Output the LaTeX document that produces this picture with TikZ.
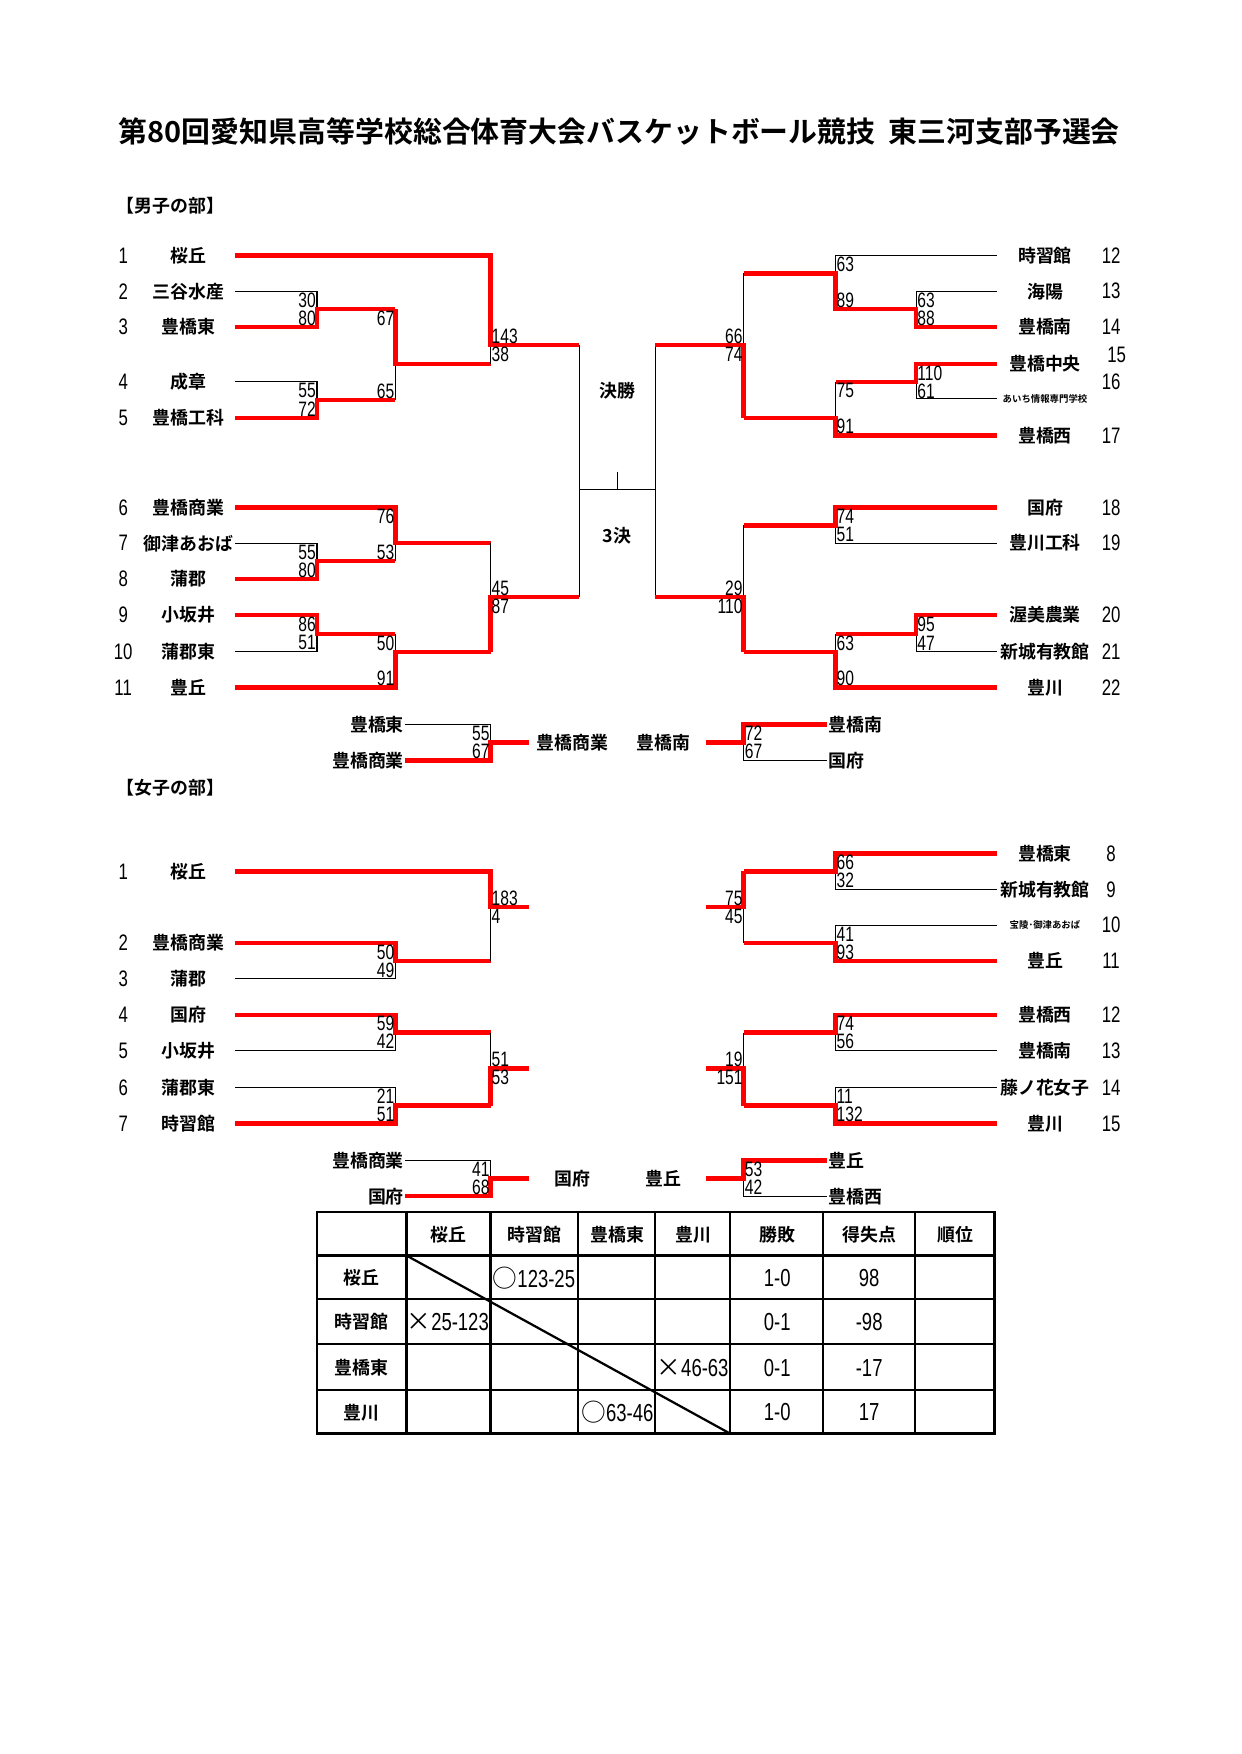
\documentclass[tikz,border=0pt]{standalone}
\usepackage{fontspec}
\setmainfont{Noto Sans CJK JP}[BoldFont={Noto Sans CJK JP Bold}]
\newfontfamily\jp{Noto Sans CJK JP Bold}
\newfontfamily\jpr{Noto Sans CJK JP}
\newfontfamily\nar[FakeStretch=0.75]{Liberation Sans}
\newcommand\mk[1]{{\jpr #1}}
\begin{document}
\begin{tikzpicture}[x=0.5pt,y=-0.5pt,
 r/.style={color=red,line width=2pt,line join=miter},
 b/.style={line width=0.5pt},
 sc/.style={font=\nar\fontsize{9.3}{9.3}\selectfont,inner sep=0.3pt},
 tc/.style={font=\nar\fontsize{11}{11}\selectfont,inner sep=0.6pt},
 nm/.style={font=\jp\fontsize{8}{8}\selectfont,inner sep=0.5pt},
 sm/.style={font=\jp\fontsize{4.2}{4.2}\selectfont,inner sep=0.5pt},
 no/.style={font=\nar\fontsize{10}{10}\selectfont,inner sep=0.5pt},
 hd/.style={font=\jp\fontsize{8}{8}\selectfont}]
\useasboundingbox (0,0) rectangle (1108,1566);
\node[font=\jp\fontsize{12.9}{12.9}\selectfont] (title) at (553,117) {第80回愛知県高等学校総合体育大会バスケットボール競技\ \ 東三河支部予選会};
\node[hd] (mh) at (152,184) {【男子の部】};
\node[hd] (wh) at (152,703) {【女子の部】};
% ---------- men left names
\foreach \n/\t/\y in {1/桜丘/228,2/三谷水産/260,3/豊橋東/292,4/成章/341,5/豊橋工科/373,6/豊橋商業/453,7/御津あおば/485,8/蒲郡/517,9/小坂井/549,10/蒲郡東/582,11/豊丘/614}{
 \node[no] (mn\n) at (110,\y) {\n}; \node[nm] (mt\n) at (168,\y) {\t};}
% ---------- men right names
\foreach \n/\t/\y in {12/時習館/228,13/海陽/260,14/豊橋南/292,17/豊橋西/389,18/国府/453,19/豊川工科/485,20/渥美農業/549,21/新城有教館/582,22/豊川/614}{
 \node[no] (mn\n) at (992,\y) {\n}; \node[nm] (mt\n) at (933,\y) {\t};}
\node[no] (mn15) at (997,317) {15}; \node[nm] (mt15) at (933,325) {豊橋中央};
\node[no] (mn16) at (992,341) {16}; \node[sm] (mt16) at (933,356) {あいち情報専門学校};
% ---------- men left bracket
\draw[b] (210,260)--(283,260)--(283,292);
\draw[r] (210,292)--(283,292)--(283,276)--(353,276);
\node[sc,anchor=east] at (283,268) {30}; \node[sc,anchor=east] at (283,284) {80};
\draw[b] (210,341)--(283,341)--(283,357);
\draw[r] (210,373)--(283,373)--(283,357)--(353,357);
\node[sc,anchor=east] at (283,349) {55}; \node[sc,anchor=east] at (283,365) {72};
\draw[b] (353,325)--(353,357);
\draw[r] (353,276)--(353,325)--(438,325);
\node[sc,anchor=east] at (353,284) {67}; \node[sc,anchor=east] at (353,349) {65};
\draw[b] (438,308)--(438,325);
\draw[r] (210,228)--(438,228)--(438,308)--(517,308);
\node[sc,anchor=west] at (438,300) {143}; \node[sc,anchor=west] at (438,316) {38};
\draw[b] (210,485)--(283,485)--(283,501);
\draw[r] (210,517)--(283,517)--(283,501)--(353,501);
\node[sc,anchor=east] at (283,493) {55}; \node[sc,anchor=east] at (283,509) {80};
\draw[b] (353,485)--(353,501);
\draw[r] (210,453)--(353,453)--(353,485)--(438,485);
\node[sc,anchor=east] at (353,461) {76}; \node[sc,anchor=east] at (353,493) {53};
\draw[b] (210,582)--(283,582)--(283,566);
\draw[r] (210,549)--(283,549)--(283,566)--(353,566);
\node[sc,anchor=east] at (283,557) {86}; \node[sc,anchor=east] at (283,574) {51};
\draw[b] (353,566)--(353,582);
\draw[r] (210,614)--(353,614)--(353,582)--(438,582);
\node[sc,anchor=east] at (353,574) {50}; \node[sc,anchor=east] at (353,606) {91};
\draw[b] (438,485)--(438,533);
\draw[r] (438,582)--(438,533)--(517,533);
\node[sc,anchor=west] at (438,525) {45}; \node[sc,anchor=west] at (438,541) {87};
% final
\draw[b] (517,308)--(517,533) (517,437)--(585,437) (551,421)--(551,437) (585,308)--(585,533);
\node[nm] (fin) at (551,349) {決勝};
\node[nm] (thr) at (551,478) {3決};
% ---------- men right bracket
\draw[b] (890,228)--(746,228)--(746,244);
\draw[b] (890,260)--(818,260)--(818,276);
\draw[r] (890,292)--(818,292)--(818,276)--(746,276)--(746,244)--(664,244);
\node[sc,anchor=west] at (818,268) {63}; \node[sc,anchor=west] at (818,284) {88};
\node[sc,anchor=west] at (746,236) {63}; \node[sc,anchor=west] at (746,268) {89};
\draw[b] (890,356)--(818,356)--(818,341);
\draw[r] (890,325)--(818,325)--(818,341)--(746,341);
\node[sc,anchor=west] at (818,333) {110}; \node[sc,anchor=west] at (818,349) {61};
\draw[b] (746,341)--(746,373);
\draw[r] (890,389)--(746,389)--(746,373)--(664,373);
\node[sc,anchor=west] at (746,349) {75}; \node[sc,anchor=west] at (746,381) {91};
\draw[b] (664,244)--(664,308);
\draw[r] (664,373)--(664,308)--(585,308);
\node[sc,anchor=east] at (664,300) {66}; \node[sc,anchor=east] at (664,316) {74};
\draw[b] (890,485)--(746,485)--(746,469);
\draw[r] (890,453)--(746,453)--(746,469)--(664,469);
\node[sc,anchor=west] at (746,461) {74}; \node[sc,anchor=west] at (746,477) {51};
\draw[b] (890,582)--(818,582)--(818,566);
\draw[r] (890,549)--(818,549)--(818,566)--(746,566);
\node[sc,anchor=west] at (818,557) {95}; \node[sc,anchor=west] at (818,574) {47};
\draw[b] (746,566)--(746,582);
\draw[r] (890,614)--(746,614)--(746,582)--(664,582);
\node[sc,anchor=west] at (746,574) {63}; \node[sc,anchor=west] at (746,606) {90};
\draw[b] (664,469)--(664,533);
\draw[r] (664,582)--(664,533)--(585,533);
\node[sc,anchor=east] at (664,525) {29}; \node[sc,anchor=east] at (664,541) {110};
% men 3rd place
\node[nm,anchor=east] (m3a) at (362,647) {豊橋東};
\node[nm,anchor=east] (m3b) at (362,679) {豊橋商業};
\draw[b] (m3a.east)--(438,647)--(438,663);
\draw[r] (m3b.east)--(438,679)--(438,663)--(472,663);
\node[sc,anchor=east] at (438,655) {55}; \node[sc,anchor=east] at (438,671) {67};
\node[nm] (m3w) at (511,663) {豊橋商業};
\node[nm] (m3r) at (592,663) {豊橋南};
\node[nm,anchor=west] (m3c) at (738,647) {豊橋南};
\node[nm,anchor=west] (m3d) at (738,679) {国府};
\draw[b] (m3d.west)--(664,679)--(664,663);
\draw[r] (m3c.west)--(664,647)--(664,663)--(630,663);
\node[sc,anchor=west] at (664,655) {72}; \node[sc,anchor=west] at (664,671) {67};
% ---------- women left
\foreach \n/\t/\y in {1/桜丘/778,2/豊橋商業/842,3/蒲郡/874,4/国府/906,5/小坂井/938,6/蒲郡東/971,7/時習館/1003}{
 \node[no] (wn\n) at (110,\y) {\n}; \node[nm] (wt\n) at (168,\y) {\t};}
\draw[b] (210,874)--(353,874)--(353,858);
\draw[r] (210,842)--(353,842)--(353,858)--(438,858);
\node[sc,anchor=east] at (353,850) {50}; \node[sc,anchor=east] at (353,866) {49};
\draw[b] (438,810)--(438,858);
\draw[r] (210,778)--(438,778)--(438,810)--(472,810);
\node[sc,anchor=west] at (438,802) {183}; \node[sc,anchor=west] at (438,818) {4};
\draw[b] (210,938)--(353,938)--(353,922);
\draw[r] (210,906)--(353,906)--(353,922)--(438,922);
\node[sc,anchor=east] at (353,914) {59}; \node[sc,anchor=east] at (353,930) {42};
\draw[b] (210,971)--(353,971)--(353,987);
\draw[r] (210,1003)--(353,1003)--(353,987)--(438,987);
\node[sc,anchor=east] at (353,979) {21}; \node[sc,anchor=east] at (353,995) {51};
\draw[b] (438,922)--(438,954);
\draw[r] (438,987)--(438,954)--(472,954);
\node[sc,anchor=west] at (438,946) {51}; \node[sc,anchor=west] at (438,962) {53};
% ---------- women right
\foreach \n/\t/\y in {8/豊橋東/762,9/新城有教館/794,11/豊丘/858,12/豊橋西/906,13/豊橋南/938,14/藤ノ花女子/971,15/豊川/1003}{
 \node[no] (wn\n) at (992,\y) {\n}; \node[nm] (wt\n) at (933,\y) {\t};}
\node[no] (wn10) at (992,826) {10}; \node[sm] (wt10) at (933,826) {宝陵･御津あおば};
\draw[b] (890,794)--(746,794)--(746,778);
\draw[r] (890,762)--(746,762)--(746,778)--(664,778);
\node[sc,anchor=west] at (746,770) {66}; \node[sc,anchor=west] at (746,786) {32};
\draw[b] (890,826)--(746,826)--(746,842);
\draw[r] (890,858)--(746,858)--(746,842)--(664,842);
\node[sc,anchor=west] at (746,834) {41}; \node[sc,anchor=west] at (746,850) {93};
\draw[b] (664,810)--(664,842);
\draw[r] (664,778)--(664,810)--(630,810);
\node[sc,anchor=east] at (664,802) {75}; \node[sc,anchor=east] at (664,818) {45};
\draw[b] (890,938)--(746,938)--(746,922);
\draw[r] (890,906)--(746,906)--(746,922)--(664,922);
\node[sc,anchor=west] at (746,914) {74}; \node[sc,anchor=west] at (746,930) {56};
\draw[b] (890,971)--(746,971)--(746,987);
\draw[r] (890,1003)--(746,1003)--(746,987)--(664,987);
\node[sc,anchor=west] at (746,979) {11}; \node[sc,anchor=west] at (746,995) {132};
\draw[b] (664,922)--(664,954);
\draw[r] (664,987)--(664,954)--(630,954);
\node[sc,anchor=east] at (664,946) {19}; \node[sc,anchor=east] at (664,962) {151};
% women 3rd place
\node[nm,anchor=east] (w3a) at (362,1036) {豊橋商業};
\node[nm,anchor=east] (w3b) at (362,1068) {国府};
\draw[b] (w3a.east)--(438,1036)--(438,1052);
\draw[r] (w3b.east)--(438,1068)--(438,1052)--(472,1052);
\node[sc,anchor=east] at (438,1044) {41}; \node[sc,anchor=east] at (438,1060) {68};
\node[nm] (w3w) at (511,1052) {国府};
\node[nm] (w3r) at (592,1052) {豊丘};
\node[nm,anchor=west] (w3c) at (738,1036) {豊丘};
\node[nm,anchor=west] (w3d) at (738,1068) {豊橋西};
\draw[b] (w3d.west)--(664,1068)--(664,1052);
\draw[r] (w3c.west)--(664,1036)--(664,1052)--(630,1052);
\node[sc,anchor=west] at (664,1044) {53}; \node[sc,anchor=west] at (664,1060) {42};
% ---------- table
\draw[line width=1.2pt] (283,1082) rectangle (888,1280);
\foreach \x in {363,438,516,585,652,735,817}{\draw[line width=1pt] (\x,1082)--(\x,1280);}
\foreach \y in {1121,1160,1200,1241}{\draw[line width=1pt] (283,\y)--(888,\y);}
\draw[line width=1pt] (363,1121)--(652,1280);
\foreach \t/\x in {桜丘/400,時習館/477,豊橋東/551,豊川/619,勝敗/694,得失点/776,順位/853}{\node[nm] at (\x,1102) {\t};}
\foreach \t/\y in {桜丘/1141,時習館/1180,豊橋東/1221,豊川/1261}{\node[nm] at (323,\y) {\t};}
\node[tc,anchor=east] at (515,1141) {\mk{○}123-25};
\node[tc,anchor=east] at (438,1180) {\mk{×}25-123};
\node[tc,anchor=east] at (652,1221) {\mk{×}46-63};
\node[tc,anchor=east] at (585,1261) {\mk{○}63-46};
\foreach \a/\b/\y in {1-0/98/1141,0-1/-98/1180,0-1/-17/1221,1-0/17/1261}{
 \node[tc] at (694,\y) {\a};
 \node[tc] at (776,\y) {\b};}
\end{tikzpicture}
\end{document}
